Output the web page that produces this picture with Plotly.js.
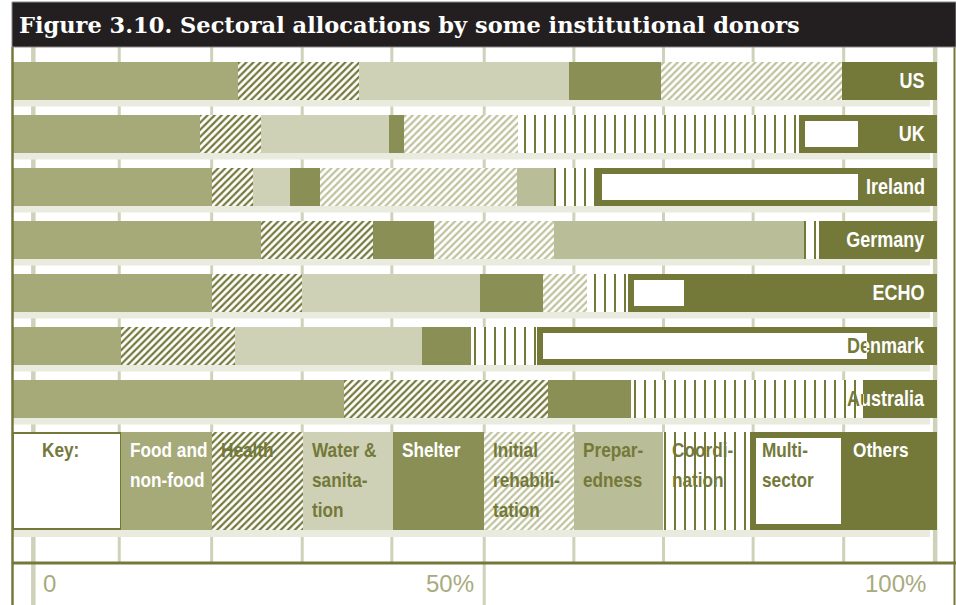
<!DOCTYPE html>
<html><head><meta charset="utf-8">
<script src="https://cdn.plot.ly/plotly-3.0.1.min.js"></script>
<style>html,body{margin:0;padding:0;background:#fff}#chart{width:956px;height:605px}</style>
</head><body><div id="chart"></div>
<script>
// ---------- data ----------
const donors = ['US','UK','Ireland','Germany','ECHO','Denmark','Australia'];
const sectors = ['Food and non-food','Health','Water & sanitation','Shelter','Initial rehabilitation','Preparedness','Coordination','Multi-sector','Others'];
const food         = [24.3, 20.2, 21.5, 26.8, 21.5, 11.7, 35.8];
const health       = [13.1,  6.6,  4.5, 12.2,  9.8, 12.3, 22.1];
const water        = [22.8, 13.9,  4.0,  0.0, 19.2, 20.3,  0.0];
const shelter      = [ 9.9,  1.6,  3.2,  6.6,  6.9,  5.3,  9.0];
const initialRehab = [19.6, 12.3, 21.3, 13.0,  4.7,  0.0,  0.0];
const preparedness = [ 0.0,  0.0,  4.0, 27.0,  0.0,  0.0,  0.0];
const coordination = [ 0.0, 30.8,  4.9,  1.6,  4.8,  7.4, 25.1];
const multiSector  = [ 0.0,  6.4, 28.4,  0.0,  6.0, 35.7,  0.0];
const others       = [10.3,  8.2,  8.2, 12.8, 27.1,  7.3,  8.0];
const title = 'Figure 3.10. Sectoral allocations by some institutional donors';
const keyLabel = 'Key:';
const keyLabelWidth = 11.7;
const keyWidths = [9.8, 9.9, 9.7, 9.9, 9.7, 9.6, 9.8, 9.8, 10.1];
const keyLines = [['Food and','non-food'],['Health'],['Water &','sanita-','tion'],['Shelter'],
                  ['Initial','rehabili-','tation'],['Prepar-','edness'],['Coordi-','nation'],['Multi-','sector'],['Others']];
const tickLabels = ['0','50%','100%'];
const tickVals = [4.0, 47.3, 95.5];
const gridVals = [2.2, 11.5, 21.5, 31.3, 41.0, 51.0, 60.7, 70.4, 80.1, 89.9, 99.8];

// ---------- styles / geometry ----------
const W = 956, H = 605, TOP = 47;
const PX = 9.24, X0PX = 13;          // px per percent, px of 0%
const ROW = 53, Y0PX = 80.5;         // px per row, px of first row centre
const toRow = py => (py - Y0PX) / ROW;
const toX = px => (px - X0PX) / PX;
const OLIVE = '#74793a';
const MULTI_LINE = 6;
const barW = 38 / ROW, keyW = 98 / ROW;
const keyPos = toRow(481);
const rows = donors.map((d, i) => i);
const sectorValues = [food, health, water, shelter, initialRehab, preparedness, coordination, multiSector, others];
const sectorStyles = [
  {color:'#a6a978'},
  {color:'#ffffff', pattern:{shape:'/', fgcolor:OLIVE, bgcolor:'#ffffff', size:5, solidity:0.45, fillmode:'replace'}},
  {color:'#ced1b6'},
  {color:'#8a9055'},
  {color:'#ffffff', pattern:{shape:'/', fgcolor:'#bfc29c', bgcolor:'#ffffff', size:5, solidity:0.45, fillmode:'replace'}},
  {color:'#babe98'},
  {color:'#ffffff', pattern:{shape:'|', fgcolor:OLIVE, bgcolor:'#ffffff', size:10, solidity:0.2, fillmode:'replace'}},
  {color:'#ffffff', line:{color:OLIVE, width:MULTI_LINE}},
  {color:OLIVE}
];
const keyTextColors = ['#fff', OLIVE, OLIVE, '#fff', OLIVE, OLIVE, OLIVE, OLIVE, '#fff'];
const labelFont = '"Liberation Sans", Arial, sans-serif';
const CONDENSE = 0.82;

// ---------- traces ----------
const traces = [];
traces.push({type:'bar', orientation:'h', x:[keyLabelWidth], y:[keyPos], width:[keyW - 2/ROW],
  marker:{color:'#ffffff', line:{color:OLIVE, width:2}}, hoverinfo:'skip', name:keyLabel});
sectorValues.forEach((vals, k) => {
  const st = sectorStyles[k];
  const shrink = st.line ? st.line.width / ROW : 0;
  const xs = [], ys = [], ws = [];
  vals.forEach((v, i) => { if (v > 0) { xs.push(v); ys.push(rows[i]); ws.push(barW - shrink); } });
  xs.push(keyWidths[k]); ys.push(keyPos); ws.push(keyW - shrink);
  const marker = {color: st.color};
  if (st.pattern) marker.pattern = st.pattern;
  marker.line = st.line ? st.line : {width:0};
  traces.push({type:'bar', orientation:'h', name:sectors[k], x:xs, y:ys, width:ws, marker, hoverinfo:'skip'});
});

// ---------- shapes ----------
const shapes = [];
const axisRow = toRow(563);
const yTop = toRow(TOP), yBot = toRow(H);
gridVals.forEach((g, i) => {
  const longLine = (i === 0 || i === 5);
  shapes.push({type:'line', layer:'below', xref:'x', yref:'y', x0:g, x1:g, y0:yTop, y1: longLine ? yBot : axisRow,
    line:{color:'#cfd2b8', width: (i === 0 || i === gridVals.length - 1) ? 4.5 : 3}});
});
const stripEnd = toX(930);
rows.concat([keyPos]).forEach((r, i) => {
  const half = (i < rows.length ? barW : keyW) / 2;
  shapes.push({type:'rect', layer:'below', xref:'x', yref:'y', x0:0, x1:stripEnd, y0:r + half, y1:r + half + 7/ROW,
    fillcolor:'#e9ebdf', line:{width:0}});
});
shapes.push({type:'line', xref:'paper', yref:'y', x0:12/W, x1:1, y0:axisRow, y1:axisRow, line:{color:OLIVE, width:3}});
shapes.push({type:'line', xref:'paper', yref:'paper', x0:12.5/W, x1:12.5/W, y0:0, y1:1, line:{color:OLIVE, width:2.5}});
shapes.push({type:'line', xref:'paper', yref:'paper', x0:954.5/W, x1:954.5/W, y0:0, y1:1, line:{color:OLIVE, width:2}});
const pY = py => (H - py) / (H - TOP);
shapes.push({type:'rect', xref:'paper', yref:'paper', x0:12/W, x1:1, y0:pY(47), y1:pY(2),
  fillcolor:'#231f20', line:{color:'#8a8a8a', width:1}});

// ---------- annotations ----------
const annotations = [];
donors.forEach((d, i) => {
  annotations.push({xref:'x', yref:'y', x:toX(927), y:rows[i], xanchor:'right', yanchor:'middle', align:'right',
    showarrow:false, text:d, font:{family:labelFont, size:22, color:'#ffffff', weight:'bold'}});
});
const lineTop = toRow(449), lineStep = 30 / ROW, textPad = 7 / PX;
annotations.push({xref:'x', yref:'y', x:toX(40), y:lineTop, xanchor:'left', yanchor:'middle', align:'left', showarrow:false,
  text:keyLabel, font:{family:labelFont, size:21, color:OLIVE, weight:'bold'}});
let left = keyLabelWidth;
keyLines.forEach((lines, k) => {
  lines.forEach((ln, j) => {
    annotations.push({xref:'x', yref:'y', x:left + textPad, y:lineTop + j * lineStep, xanchor:'left', yanchor:'middle',
      align:'left', showarrow:false, text:ln, font:{family:labelFont, size:21, color:keyTextColors[k], weight:'bold'}});
  });
  left += keyWidths[k];
});
const nCondensed = annotations.length;
tickLabels.forEach((t, i) => {
  annotations.push({xref:'x', yref:'y', x:tickVals[i], y:toRow(583), xanchor:'center', yanchor:'middle', showarrow:false,
    text:t, font:{family:'"Liberation Sans", Arial, sans-serif', size:24, color:'#a8ab7e'}});
});

const layout = {
  width:W, height:H, margin:{l:0, r:0, t:TOP, b:0, pad:0},
  paper_bgcolor:'#ffffff', plot_bgcolor:'#ffffff', showlegend:false, barmode:'stack', hovermode:false,
  title:{text:title, xref:'container', yref:'container', x:19/W, xanchor:'left', y:1 - 25/H, yanchor:'middle',
    font:{family:'"DejaVu Serif", serif', size:22.5, color:'#ffffff', weight:'bold'}},
  xaxis:{range:[toX(0), toX(W)], showgrid:false, zeroline:false, showticklabels:false, showline:false, fixedrange:true},
  yaxis:{range:[yBot, yTop], showgrid:false, zeroline:false, showticklabels:false, showline:false, fixedrange:true},
  shapes, annotations
};
const SVGNS = 'http://www.w3.org/2000/svg';
Plotly.newPlot('chart', traces, layout, {staticPlot:true, displayModeBar:false}).then(gd => {
  // condensed lettering: squeeze label text horizontally about its anchor point
  gd.querySelectorAll('g.annotation').forEach(g => {
    const idx = +g.getAttribute('data-index');
    if (idx >= nCondensed) return;
    const t = g.querySelector('text.annotation-text');
    if (!t) return;
    const x = parseFloat(t.getAttribute('x')) || 0;
    t.setAttribute('transform', 'translate(' + x + ',0) scale(' + CONDENSE + ',1) translate(' + (-x) + ',0)');
  });
  // knockout row labels: olive where they sit on white, white where they sit on the olive "Others" block
  const box = gd.getBoundingClientRect();
  donors.forEach((d, i) => {
    const g = gd.querySelector('g.annotation[data-index="' + i + '"]');
    if (!g) return;
    const t = g.querySelector('text.annotation-text');
    if (!t) return;
    const boundaryPx = X0PX + (100 - others[i]) * PX - (multiSector[i] > 0 ? MULTI_LINE / 2 : 0);
    const svg = t.ownerSVGElement;
    const pt = svg.createSVGPoint();
    pt.x = box.left + boundaryPx; pt.y = box.top;
    const lp = pt.matrixTransform(t.getScreenCTM().inverse());
    const mkClip = (id, x0, w) => {
      const cp = document.createElementNS(SVGNS, 'clipPath');
      cp.setAttribute('id', id);
      cp.setAttribute('clipPathUnits', 'userSpaceOnUse');
      const r = document.createElementNS(SVGNS, 'rect');
      r.setAttribute('x', x0); r.setAttribute('y', -5000);
      r.setAttribute('width', w); r.setAttribute('height', 10000);
      cp.appendChild(r);
      t.parentNode.insertBefore(cp, t);
    };
    mkClip('lblW' + i, lp.x, 10000);
    mkClip('lblO' + i, lp.x - 10000, 10000);
    const clone = t.cloneNode(true);
    clone.style.fill = OLIVE;
    clone.querySelectorAll('tspan').forEach(s => { s.style.fill = OLIVE; });
    clone.setAttribute('clip-path', 'url(#lblO' + i + ')');
    t.setAttribute('clip-path', 'url(#lblW' + i + ')');
    t.parentNode.insertBefore(clone, t);
  });
});
</script></body></html>
